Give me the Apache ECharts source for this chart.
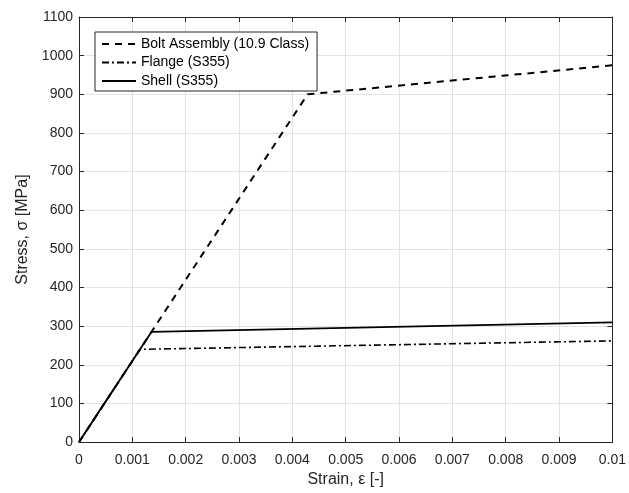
<!DOCTYPE html>
<html>
<head>
<meta charset="utf-8">
<script src="https://cdn.jsdelivr.net/npm/echarts@6/dist/echarts.min.js"></script>
<style>html,body{margin:0;padding:0;background:#fff}#c{width:629px;height:493px}</style>
</head>
<body>
<div id="c"></div>
<script>
// Data
const boltStrain = [0, 0.004286, 0.01];
const boltStress = [0, 900, 975];
const flangeStrain = [0, 0.001143, 0.01];
const flangeStress = [0, 240, 262];
const shellStrain = [0, 0.001357, 0.01];
const shellStress = [0, 285, 310];
const seriesNames = ['Bolt Assembly (10.9 Class)', 'Flange (S355)', 'Shell (S355)'];
const xTicks = [0, 0.001, 0.002, 0.003, 0.004, 0.005, 0.006, 0.007, 0.008, 0.009, 0.01];
const yTicks = [0, 100, 200, 300, 400, 500, 600, 700, 800, 900, 1000, 1100];

const zip = (a, b) => a.map((v, i) => [v, b[i]]);
const font = 'Liberation Sans, Arial, Helvetica, sans-serif';
const txt = '#262626';
const line = () => ({ show: true, onZero: false, lineStyle: { color: '#262626', width: 1 } });
const tick = () => ({ show: true, inside: true, length: 5, lineStyle: { color: '#262626', width: 1 } });
const xFmt = v => {
  const t = xTicks.find(k => Math.abs(k - v) < 1e-9);
  if (t === 0) return '0';
  if (t === 0.01) return '0.01';
  return t.toFixed(3);
};
const yFmt = v => String(yTicks.find(k => Math.abs(k - v) < 1e-6));
const chart = echarts.init(document.getElementById('c'));
chart.setOption({
  animation: false,
  backgroundColor: '#fff',
  grid: { left: 79, right: 15, top: 17, bottom: 50, containLabel: false },
  legend: {
    show: true,
    data: seriesNames,
    orient: 'vertical',
    left: 95, top: 32,
    padding: [5, 8, 3, 6],
    itemGap: 4.5,
    itemWidth: 34, itemHeight: 14,
    backgroundColor: '#fff',
    borderColor: '#262626', borderWidth: 1, borderRadius: 0,
    itemStyle: { opacity: 0 },
    textStyle: { fontFamily: font, fontSize: 14, color: '#000', padding: [0, 0, 0, 0] }
  },
  xAxis: [{
    type: 'value', min: 0, max: 0.01, interval: 0.001,
    name: 'Strain, ε [-]', nameLocation: 'middle', nameGap: 28,
    nameTextStyle: { fontFamily: font, fontSize: 16, color: txt },
    axisLabel: { fontFamily: font, fontSize: 14, color: txt, margin: 11, formatter: xFmt },
    splitLine: { show: true, lineStyle: { color: '#e3e3e3', width: 1 } },
    axisLine: line(), axisTick: tick()
  }, {
    type: 'value', min: 0, max: 0.01, interval: 0.001, position: 'top',
    axisLabel: { show: false }, splitLine: { show: false },
    axisLine: line(), axisTick: tick()
  }],
  yAxis: [{
    type: 'value', min: 0, max: 1100, interval: 100,
    name: 'Stress, σ [MPa]', nameLocation: 'middle', nameGap: 40,
    nameTextStyle: { fontFamily: font, fontSize: 16, color: txt },
    axisLabel: { fontFamily: font, fontSize: 14, color: txt, margin: 6, formatter: yFmt },
    splitLine: { show: true, lineStyle: { color: '#e3e3e3', width: 1 } },
    axisLine: line(), axisTick: tick()
  }, {
    type: 'value', min: 0, max: 1100, interval: 100, position: 'right',
    axisLabel: { show: false }, splitLine: { show: false },
    axisLine: line(), axisTick: tick()
  }],
  series: [
    { name: seriesNames[0], type: 'line', data: zip(boltStrain, boltStress), showSymbol: false, symbol: 'none',
      lineStyle: { color: '#000', width: 2, type: [7, 6] }, itemStyle: { color: '#000' } },
    { name: seriesNames[1], type: 'line', data: zip(flangeStrain, flangeStress), showSymbol: false, symbol: 'none',
      lineStyle: { color: '#000', width: 1.6, type: [7, 3, 2, 3] }, itemStyle: { color: '#000' } },
    { name: seriesNames[2], type: 'line', data: zip(shellStrain, shellStress), showSymbol: false, symbol: 'none',
      lineStyle: { color: '#000', width: 1.8, type: 'solid' }, itemStyle: { color: '#000' } }
  ]
});
</script>
</body>
</html>
